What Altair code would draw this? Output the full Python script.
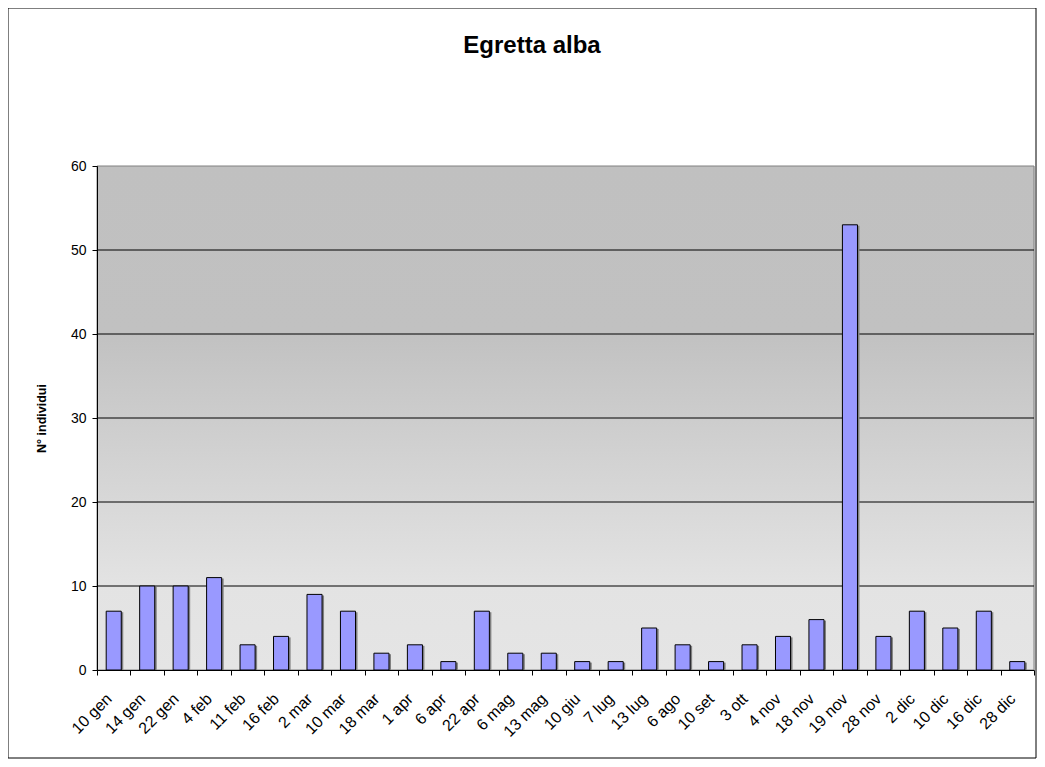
import altair as alt
import pandas as pd

dates = ["10 gen", "14 gen", "22 gen", "4 feb", "11 feb", "16 feb", "2 mar", "10 mar",
         "18 mar", "1 apr", "6 apr", "22 apr", "6 mag", "13 mag", "10 giu", "7 lug",
         "13 lug", "6 ago", "10 set", "3 ott", "4 nov", "18 nov", "19 nov", "28 nov",
         "2 dic", "10 dic", "16 dic", "28 dic"]
counts = [7, 10, 10, 11, 3, 4, 9, 7, 2, 3, 1, 7, 2, 2, 1, 1, 5, 3, 1, 3, 4, 6, 53, 4, 7, 5, 7, 1]
grid_values = [10, 20, 30, 40, 50]
title_text = ["Egretta alba"]

W, H = 937, 504
FONT = "Liberation Sans"

df = pd.DataFrame({"data": dates, "n": counts})
grid_df = pd.DataFrame({"v": grid_values})
one = pd.DataFrame({"a": [0]})
title_df = pd.DataFrame({"t": title_text})

xenc = alt.X("data:N", sort=dates,
             scale=alt.Scale(paddingInner=0, paddingOuter=0),
             axis=alt.Axis(title=None, labelAngle=-45, labelFontSize=16, labelFont=FONT,
                           labelColor="black", domainColor="black", tickColor="black",
                           labelAlign="right", labelBaseline="middle", labelOffset=-5,
                           tickSize=5, tickBand="extent", labelPadding=21, zindex=1))
yenc = alt.Y("n:Q", scale=alt.Scale(domain=[0, 60], nice=False),
             axis=alt.Axis(title="N° individui", values=[0, 10, 20, 30, 40, 50, 60],
                           grid=False, labelFontSize=14, labelFont=FONT, labelColor="black",
                           domainColor="black", tickColor="black", tickSize=5, labelPadding=6,
                           titleFont=FONT, titleFontSize=12.5, titleFontWeight="bold",
                           titleColor="black", titlePadding=22, zindex=1))

bg = alt.Chart(one).mark_rect(
    color=alt.Gradient(gradient="linear", x1=0, x2=0, y1=0, y2=1,
                       stops=[alt.GradientStop(offset=0, color="#c0c0c0"),
                              alt.GradientStop(offset=0.33, color="#c1c1c1"),
                              alt.GradientStop(offset=0.83, color="#e3e3e3"),
                              alt.GradientStop(offset=1, color="#e5e5e5")]),
    stroke="#808080", strokeWidth=1
).encode(x=alt.value(0), x2=alt.value(W), y=alt.value(0), y2=alt.value(H))

grid = alt.Chart(grid_df).mark_rule(color="black", strokeWidth=1).encode(
    y=alt.Y("v:Q", scale=alt.Scale(domain=[0, 60], nice=False)),
    x=alt.value(0), x2=alt.value(W))

shadow = alt.Chart(df).mark_bar(width=alt.RelativeBandSize(0.45), color="#808080",
                                xOffset=2, yOffset=1).encode(x=xenc, y=yenc)
bars = alt.Chart(df).mark_bar(width=alt.RelativeBandSize(0.45), color="#9999ff",
                              stroke="black", strokeWidth=1).encode(x=xenc, y=yenc)

border = alt.Chart(one).mark_rect(fill="white", fillOpacity=0, stroke="black",
                                  strokeWidth=1, clip=False).encode(
    x=alt.value(-89), x2=alt.value(W + 2), y=alt.value(-158), y2=alt.value(H + 88))

title = alt.Chart(title_df).mark_text(font=FONT, fontSize=24, fontWeight="bold",
                                      color="black", align="center", baseline="alphabetic",
                                      clip=False).encode(
    text="t:N", x=alt.value(532 - 97), y=alt.value(53 - 166))

chart = alt.layer(bg, grid, shadow, bars, border, title).properties(
    width=W, height=H,
    padding={"left": 89, "top": 158, "right": 3, "bottom": 89},
    autosize=alt.AutoSizeParams(type="none")
).configure_view(stroke=None).configure(background="white")

chart.save("out.html", embed_options={"renderer": "svg", "actions": False})
